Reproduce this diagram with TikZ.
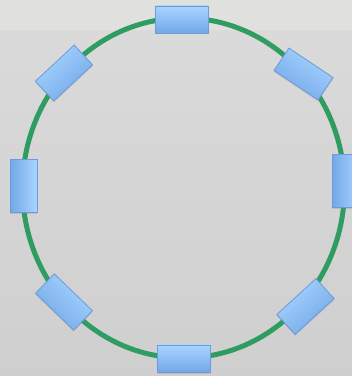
\documentclass[tikz,border=0pt]{standalone}
\usetikzlibrary{shadows}
\definecolor{bgband}{HTML}{E0E0DF}
\definecolor{bgmid}{HTML}{DADADA}
\definecolor{bgbot}{HTML}{CFCFCF}
\definecolor{ringgreen}{HTML}{2F9C62}
\definecolor{boxtop}{HTML}{A8D4FF}
\definecolor{boxbot}{HTML}{72A8E8}
\definecolor{boxedge}{HTML}{6C9BD8}
\tikzset{
  x=1pt,y=1pt,
  blockbox/.style={rectangle, minimum width=53pt, minimum height=27pt, inner sep=0pt,
    draw=boxedge, line width=0.8pt, top color=boxtop, bottom color=boxbot,
    rotate=#1, shading angle=#1,
    drop shadow={shadow xshift=0pt, shadow yshift=-1.5pt, opacity=0.25}},
  blockbox/.default=0,
  ring/.style={draw=ringgreen, line width=5pt}
}
\begin{document}
\begin{tikzpicture}
\useasboundingbox (0,0) rectangle (352,376);
\fill[bottom color=bgbot, top color=bgmid] (0,0) rectangle (352,346);
\fill[bgband] (0,346) rectangle (352,376);
\coordinate (c) at (183.5,188);
\draw[ring] (c) ellipse [x radius=161, y radius=170];
\node[blockbox] (n1) at (182,356.5) {};
\node[blockbox=-33.7] (n2) at (303.5,302) {};
\node[blockbox=-90] (n3) at (345.5,195) {};
\node[blockbox=42.5] (n4) at (305.5,69.5) {};
\node[blockbox] (n5) at (184,17.5) {};
\node[blockbox=-44] (n6) at (64,74) {};
\node[blockbox=-90] (n7) at (23.5,190) {};
\node[blockbox=43] (n8) at (64,303) {};
\end{tikzpicture}
\end{document}
